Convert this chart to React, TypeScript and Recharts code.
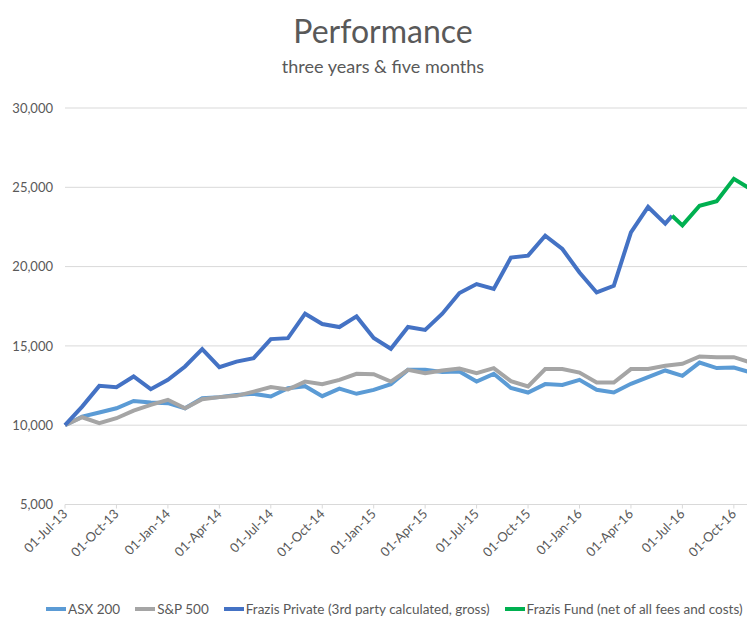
import { LineChart, Line, XAxis, YAxis, CartesianGrid, Legend } from "recharts";

const TEXT = "#595959";
const GRID = "#d9d9d9";
const FONT = "Lato, 'Open Sans', sans-serif";

// month offsets from 01-Jul-13
const tickMonths = [0, 3, 6, 9, 12, 15, 18, 21, 24, 27, 30, 33, 36, 39];
const tickLabels = [
  "01-Jul-13", "01-Oct-13", "01-Jan-14", "01-Apr-14", "01-Jul-14", "01-Oct-14", "01-Jan-15",
  "01-Apr-15", "01-Jul-15", "01-Oct-15", "01-Jan-16", "01-Apr-16", "01-Jul-16", "01-Oct-16",
];
const yTicks = [5000, 10000, 15000, 20000, 25000, 30000];

// monthly, Jul-13 .. Nov-16
const asx200 = [
  10000, 10540, 10800, 11070, 11530, 11430, 11390, 11070, 11700, 11770, 11910, 11980, 11810, 12330,
  12460, 11830, 12310, 11980, 12230, 12590, 13490, 13490, 13350, 13380, 12750, 13240, 12350, 12060,
  12590, 12540, 12860, 12230, 12060, 12610, 13030, 13450, 13110, 13950, 13600, 13640, 13320,
];
const sp500 = [
  10000, 10500, 10130, 10440, 10920, 11280, 11600, 11070, 11640, 11770, 11850, 12120, 12400, 12250,
  12750, 12590, 12860, 13240, 13220, 12750, 13490, 13280, 13450, 13570, 13280, 13600, 12780, 12440,
  13540, 13540, 13320, 12690, 12690, 13540, 13540, 13750, 13870, 14330, 14290, 14290, 13950,
];
// Jul-13 .. Jun-16
const frazisPrivate = [
  10000, 11170, 12480, 12400, 13070, 12270, 12860, 13700, 14800, 13660, 14010, 14230, 15430, 15490,
  17030, 16380, 16190, 16860, 15500, 14820, 16190, 16010, 17030, 18330, 18900, 18590, 20570, 20690,
  21950, 21110, 19630, 18370, 18790, 22160, 23760, 22710,
];
// fund inception mid Jun-16 (handover from private), then monthly
const fundMonths = [35.4, 36, 37, 38, 39, 40];
const frazisFund = [23210, 22600, 23840, 24120, 25530, 24870];

const series = [
  { key: "asx", name: "ASX 200", color: "#5B9BD5" },
  { key: "sp", name: "S&P 500", color: "#A5A5A5" },
  { key: "priv", name: "Frazis Private (3rd party calculated, gross)", color: "#4472C4" },
  { key: "fund", name: "Frazis Fund (net of all fees and costs)", color: "#00B050" },
];

const rows: any[] = asx200.map((v, i) => {
  const f = fundMonths.indexOf(i);
  return {
    t: i,
    asx: v,
    sp: sp500[i],
    priv: i < frazisPrivate.length ? frazisPrivate[i] : null,
    fund: f >= 0 ? frazisFund[f] : null,
  };
});
rows.push({ t: fundMonths[0], asx: null, sp: null, priv: frazisFund[0], fund: frazisFund[0] });
rows.sort((a, b) => a.t - b.t);

const XTick = (props: any) => {
  const { x, y, payload } = props;
  const idx = tickMonths.indexOf(payload.value);
  return (
    <g transform={`translate(${x},${y})`}>
      <text
        x={0}
        y={0}
        dy="0.35em"
        textAnchor="end"
        transform="rotate(-45)"
        fill={TEXT}
        fontSize={13}
        fontFamily={FONT}
      >
        {tickLabels[idx]}
      </text>
    </g>
  );
};

const LegendContent = () => (
  <div style={{ display: "flex", whiteSpace: "nowrap", fontFamily: FONT, fontSize: 13.5, color: TEXT }}>
    {series.map((s) => (
      <div key={s.key} style={{ display: "flex", alignItems: "center", marginRight: 15 }}>
        <span style={{ display: "inline-block", width: 20, height: 4, background: s.color, marginRight: 2 }} />
        <span>{s.name}</span>
      </div>
    ))}
  </div>
);

export default function App() {
  return (
    <div
      style={{
        position: "absolute",
        left: 0,
        top: 0,
        width: 747,
        height: 619,
        overflow: "hidden",
        background: "#fff",
      }}
    >
      <svg width={747} height={90} style={{ position: "absolute", left: 0, top: 0 }}>
        <text x={383} y={43} textAnchor="middle" fill={TEXT} fontSize={32} fontFamily={FONT}>
          Performance
        </text>
        <text x={383} y={73} textAnchor="middle" fill={TEXT} fontSize={18} fontFamily={FONT}>
          three years &amp; five months
        </text>
      </svg>
      <LineChart width={790} height={619} data={rows} margin={{ top: 108, right: 39, bottom: 0, left: 0 }}>
        <CartesianGrid vertical={false} stroke={GRID} strokeWidth={1} />
        <XAxis
          type="number"
          dataKey="t"
          domain={[0, 40]}
          ticks={tickMonths}
          interval={0}
          height={114.5}
          tick={<XTick />}
          tickSize={4}
          tickMargin={3}
          axisLine={{ stroke: GRID }}
          tickLine={{ stroke: GRID }}
        />
        <YAxis
          width={65}
          domain={[5000, 30000]}
          ticks={yTicks}
          interval={0}
          axisLine={false}
          tickLine={false}
          tickMargin={6}
          tick={{ fill: TEXT, fontSize: 13, fontFamily: FONT }}
          tickFormatter={(v: number) => v.toLocaleString("en-US")}
        />
        <Legend
          layout="horizontal"
          verticalAlign="middle"
          align="center"
          wrapperStyle={{ top: 601, left: 46, width: "auto" }}
          content={<LegendContent />}
        />
        {series.map((s) => (
          <Line
            key={s.key}
            type="linear"
            dataKey={s.key}
            name={s.name}
            stroke={s.color}
            strokeWidth={4}
            dot={false}
            activeDot={false}
            connectNulls={s.key === "asx" || s.key === "sp"}
            isAnimationActive={false}
          />
        ))}
      </LineChart>
    </div>
  );
}
